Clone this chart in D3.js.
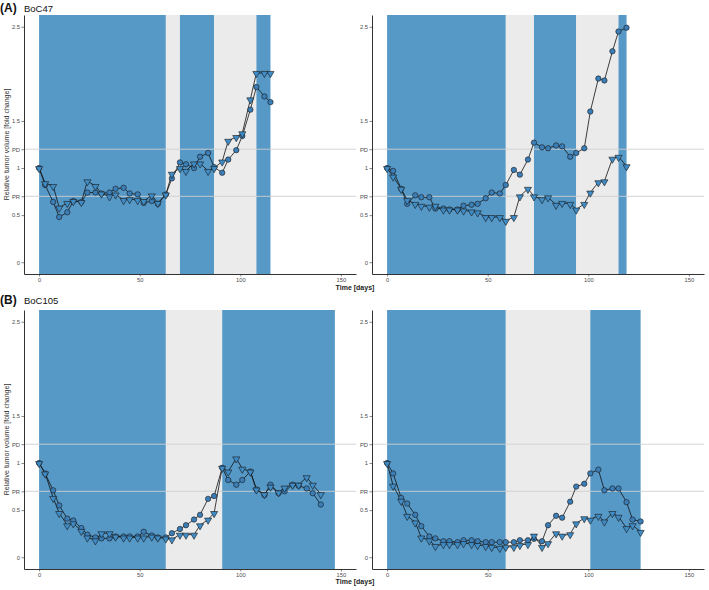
<!DOCTYPE html>
<html><head><meta charset="utf-8">
<script src="https://cdn.jsdelivr.net/npm/d3@7"></script>
<style>
body{margin:0;background:#fff}
svg{display:block;font-family:"Liberation Sans",Arial,sans-serif}
</style>
</head><body><svg id="c" width="709" height="590"></svg>
<script>
// ---- data ----
const days = [0,3,7,10,14,17,21,24,28,31,35,38,42,45,49,52,56,59,63,66,70,73,77,80,84,87,91,94,98,101,105,108,112,115,119,122,126,129,133,136,140];

const a1Circle = [1.00,0.82,0.64,0.48,0.53,0.65,0.64,0.74,0.74,0.73,0.74,0.78,0.79,0.73,0.72,0.63,0.65,0.62,0.72,0.89,1.06,1.04,1.00,1.12,1.16,1.01,0.95,1.09,1.19,1.34,1.62,1.86,1.76,1.70];
const a1Tri    = [1.00,0.84,0.81,0.58,0.63,0.65,0.64,0.86,0.81,0.73,0.70,0.72,0.66,0.67,0.66,0.65,0.71,0.63,0.72,0.94,1.00,0.97,1.05,1.05,0.97,1.00,1.07,1.29,1.33,1.37,1.73,2.01,2.01,2.01];

const a2Circle = [1.00,0.97,0.78,0.62,0.71,0.69,0.69,0.57,0.57,0.56,0.56,0.60,0.61,0.62,0.68,0.74,0.73,0.82,0.98,0.93,1.09,1.27,1.22,1.21,1.24,1.23,1.12,1.16,1.21,1.60,1.95,1.93,2.24,2.45,2.49];
const a2Tri    = [1.00,0.91,0.78,0.66,0.62,0.60,0.59,0.60,0.56,0.56,0.56,0.55,0.54,0.53,0.48,0.48,0.48,0.44,0.48,0.70,0.78,0.70,0.67,0.69,0.61,0.63,0.62,0.56,0.62,0.74,0.85,0.86,1.10,1.12,1.02];

const b1Circle = [1.00,0.89,0.71,0.55,0.41,0.39,0.31,0.24,0.21,0.20,0.20,0.22,0.22,0.22,0.22,0.27,0.23,0.21,0.21,0.255,0.30,0.34,0.40,0.45,0.62,0.65,0.95,0.82,0.77,0.82,0.91,0.72,0.66,0.77,0.68,0.70,0.77,0.76,0.73,0.68,0.56];
const b1Tri    = [1.00,0.89,0.63,0.47,0.34,0.36,0.28,0.21,0.18,0.255,0.255,0.22,0.21,0.21,0.21,0.21,0.22,0.21,0.20,0.19,0.24,0.24,0.24,0.34,0.40,0.47,0.95,0.91,1.05,0.94,0.91,0.72,0.67,0.75,0.69,0.74,0.77,0.77,0.85,0.77,0.67];

const b2Circle = [1.00,0.89,0.63,0.57,0.45,0.33,0.22,0.20,0.17,0.17,0.16,0.18,0.18,0.17,0.16,0.16,0.16,0.16,0.16,0.18,0.18,0.195,0.17,0.34,0.44,0.42,0.59,0.75,0.78,0.89,0.93,0.71,0.73,0.73,0.585,0.40,0.38];
const b2Tri    = [1.00,0.76,0.60,0.44,0.37,0.21,0.18,0.12,0.14,0.14,0.14,0.15,0.14,0.13,0.12,0.11,0.10,0.11,0.11,0.13,0.14,0.23,0.11,0.15,0.255,0.23,0.245,0.36,0.415,0.40,0.44,0.38,0.47,0.43,0.31,0.34,0.27];

// treatment phases: [start, end, on/off]
const a1Phases = [[0,63,1],[63,70,0],[70,87,1],[87,108,0],[108,115,1]];
const a2Phases = [[0,59,1],[59,73,0],[73,94,1],[94,115,0],[115,119,1]];
const b1Phases = [[0,63,1],[63,91,0],[91,147,1]];
const b2Phases = [[0,59,1],[59,101,0],[101,126,1]];

const yTickValues = [0,0.5,0.7,1,1.2,1.5,2.5];
const yTickLabels = ["0","0.5","PR","1","PD","1.5","2.5"];
const refLines = [0.7,1.2];
const xTickValues = [0,50,100,150];

// ---- drawing ----
const svg = d3.select("#c");
const BLUE = "#5698c6", GREY = "#ebebeb";

function panel(cfg){
  const x = d3.scaleLinear().domain([-7.5,157.5]).range([cfg.x0,cfg.x1]);
  const y = d3.scaleLinear().domain([-0.125,2.625]).range([cfg.y1,cfg.y0]);
  const g = svg.append("g");
  g.selectAll("rect.ph").data(cfg.phases).enter().append("rect")
    .attr("x", d=>x(d[0])).attr("width", d=>x(d[1])-x(d[0]))
    .attr("y", cfg.y0).attr("height", cfg.y1-cfg.y0)
    .attr("fill", d=>d[2]?BLUE:GREY);
  g.selectAll("line.ref").data(refLines).enter().append("line")
    .attr("x1", cfg.x0).attr("x2", cfg.x1)
    .attr("y1", d=>y(d)).attr("y2", d=>y(d))
    .attr("stroke","#cfcfcf").attr("stroke-width",0.9);
  const cData = cfg.circ.map((v,i)=>[days[i],v]);
  const tData = cfg.tri.map((v,i)=>[days[i],v]);
  const line = d3.line().x(d=>x(d[0])).y(d=>y(d[1]));
  g.append("path").attr("d", line(cData)).attr("fill","none").attr("stroke","#111").attr("stroke-width",0.8);
  g.append("path").attr("d", line(tData)).attr("fill","none").attr("stroke","#111").attr("stroke-width",0.8);
  g.selectAll("circle.pt").data(cData).enter().append("circle")
    .attr("cx", d=>x(d[0])).attr("cy", d=>y(d[1])).attr("r",2.7)
    .attr("fill","#3b7db6").attr("stroke","#1a1a1a").attr("stroke-width",0.6);
  const tri = d3.symbol().type(d3.symbolTriangle).size(22);
  g.selectAll("path.tri").data(tData).enter().append("path")
    .attr("d", tri)
    .attr("transform", d=>`translate(${x(d[0])},${y(d[1])+0.6}) rotate(180)`)
    .attr("fill","#3f8cc6").attr("stroke","#1a1a1a").attr("stroke-width",0.6);

  const ya = d3.axisLeft(y).tickValues(yTickValues)
    .tickFormat((d,i)=>yTickLabels[i]).tickSize(2.5).tickSizeOuter(0).tickPadding(1.5);
  const yg = g.append("g").attr("transform",`translate(${cfg.x0},0)`).call(ya);
  const xa = d3.axisBottom(x).tickValues(xTickValues).tickSize(2.5).tickSizeOuter(0).tickPadding(1.5);
  const xg = g.append("g").attr("transform",`translate(0,${cfg.y1})`).call(xa);
  [yg,xg].forEach(a=>{
    a.select(".domain").attr("stroke","#333").attr("stroke-width",1);
    a.selectAll(".tick line").attr("stroke","#333").attr("stroke-width",0.6);
    a.selectAll(".tick text").attr("fill","#4d4d4d").attr("font-size","5.8px").attr("font-family","Liberation Sans, Arial, sans-serif");
  });
  if(cfg.yTitle){
    svg.append("text").attr("transform",`translate(9,${(cfg.y0+cfg.y1)/2}) rotate(-90)`)
      .attr("text-anchor","middle").attr("font-size","7px").attr("fill","#333")
      .text("Relative tumor volume [fold change]");
  }
}

panel({x0:24,x1:356,y0:15,y1:274,circ:a1Circle,tri:a1Tri,phases:a1Phases,yTitle:true});
panel({x0:372,x1:704,y0:15,y1:274,circ:a2Circle,tri:a2Tri,phases:a2Phases,yTitle:false});
panel({x0:24,x1:356,y0:310,y1:569,circ:b1Circle,tri:b1Tri,phases:b1Phases,yTitle:true});
panel({x0:372,x1:704,y0:310,y1:569,circ:b2Circle,tri:b2Tri,phases:b2Phases,yTitle:false});

// titles
svg.append("text").attr("x",0).attr("y",12).attr("font-size","12px").attr("font-weight","bold").attr("fill","#111").text("(A)");
svg.append("text").attr("x",24).attr("y",11.5).attr("font-size","9.5px").attr("fill","#111").text("BoC47");
svg.append("text").attr("x",0).attr("y",304).attr("font-size","12px").attr("font-weight","bold").attr("fill","#111").text("(B)");
svg.append("text").attr("x",24).attr("y",303.5).attr("font-size","9.5px").attr("fill","#111").text("BoC105");
[290,584].forEach(yy=>{
  svg.append("text").attr("x",355).attr("y",yy).attr("text-anchor","middle")
    .attr("font-size","7px").attr("font-weight","bold").attr("fill","#222").text("Time [days]");
});
</script></body></html>
